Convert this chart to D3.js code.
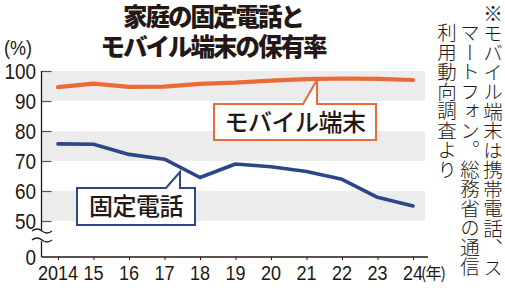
<!DOCTYPE html>
<html>
<head>
<meta charset="utf-8">
<script src="https://cdn.jsdelivr.net/npm/d3@7"></script>
<style>
  body { margin: 0; background: #fff; }
  svg { display: block; }
</style>
</head>
<body>
<svg id="chart" width="505" height="290"></svg>
<script>
// data
var years = [2014, 2015, 2016, 2017, 2018, 2019, 2020, 2021, 2022, 2023, 2024];
var yearLabels = ["2014", "15", "16", "17", "18", "19", "20", "21", "22", "23", "24"];
var mobile = [94.6, 95.8, 94.7, 94.8, 95.7, 96.1, 96.8, 97.3, 97.5, 97.4, 97.0];
var fixedPhone = [75.7, 75.6, 72.2, 70.6, 64.5, 69.0, 68.1, 66.5, 63.9, 57.9, 55.0];
var yTicks = [0, 50, 60, 70, 80, 90, 100];
var bands = [[90, 100], [70, 80], [50, 60]];
var titleLines = ["家庭の固定電話と", "モバイル端末の保有率"];
var noteLines = ["※モバイル端末は携帯電話、ス", "マートフォン。総務省の通信", "利用動向調査より"];

var svg = d3.select("#chart");
var ink = "#231815";
var orange = "#ec6a35";
var blue = "#2d4687";
var numFont = "'Liberation Sans', 'Roboto', sans-serif";
var jpFont = "'Noto Sans CJK JP', sans-serif";
var squeeze = 0.86; // condensed look for numbers

var x = d3.scaleLinear().domain([2014, 2024]).range([58, 413]);
// broken axis: 0..50 squeezed at bottom
var y = d3.scaleLinear().domain([0, 50, 100]).range([257, 221, 71]);

var axisX = 41.5;
var plotRight = 425;

// grey bands
svg.selectAll("rect.band").data(bands).enter().append("rect")
  .attr("class", "band")
  .attr("x", axisX)
  .attr("width", plotRight - axisX)
  .attr("y", function(d) { return y(d[1]); })
  .attr("height", function(d) { return y(d[0]) - y(d[1]); })
  .attr("fill", "#ececec");

// y axis
var yAxis = d3.axisRight(y).tickValues(yTicks).tickSize(10).tickFormat("");
var gy = svg.append("g").attr("transform", "translate(" + axisX + ",0)").call(yAxis);
gy.select(".domain").remove();
gy.selectAll(".tick line").attr("stroke", "#555").attr("stroke-width", 1.2)
  .filter(function(d) { return d === 0; }).remove();
svg.append("line").attr("x1", axisX).attr("x2", axisX).attr("y1", y(100)).attr("y2", y(0))
  .attr("stroke", ink).attr("stroke-width", 1.3);

svg.selectAll("text.ytick").data(yTicks).enter().append("text")
  .attr("class", "ytick")
  .attr("transform", function(d) { return "translate(36," + (y(d) + 7.5) + ") scale(" + squeeze + ",1)"; })
  .attr("text-anchor", "end")
  .attr("font-family", numFont).attr("font-size", 22).attr("fill", ink)
  .text(function(d) { return d; });

svg.append("text").attr("transform", "translate(4,55) scale(0.9,1)")
  .attr("font-family", numFont).attr("font-size", 20).attr("fill", ink)
  .text("(%)");

// break mark
var wave = function(yy) {
  return "M32," + yy + " q5,-4 10,0 t10,0";
};
svg.append("rect").attr("x", axisX - 2).attr("y", 230).attr("width", 4).attr("height", 11).attr("fill", "#fff");
[231, 240].forEach(function(yy) {
  svg.append("path").attr("d", wave(yy)).attr("fill", "none")
    .attr("stroke", ink).attr("stroke-width", 1.3);
});

// x axis
var xAxis = d3.axisBottom(x).tickValues(years).tickSize(3).tickFormat("");
var gx = svg.append("g").attr("transform", "translate(0," + y(0) + ")").call(xAxis);
gx.select(".domain").remove();
gx.selectAll(".tick line").attr("stroke", ink);
svg.append("line").attr("x1", axisX).attr("x2", 428).attr("y1", y(0)).attr("y2", y(0))
  .attr("stroke", ink).attr("stroke-width", 1.3);

svg.selectAll("text.xtick").data(years).enter().append("text")
  .attr("class", "xtick")
  .attr("transform", function(d) { return "translate(" + x(d) + ",280) scale(" + squeeze + ",1)"; })
  .attr("text-anchor", "middle")
  .attr("font-family", numFont).attr("font-size", 21).attr("fill", ink)
  .text(function(d, i) { return yearLabels[i]; });

svg.append("text").attr("x", 421).attr("y", 279)
  .attr("font-family", jpFont).attr("font-size", 16).attr("fill", ink)
  .attr("letter-spacing", -1)
  .text("(年)");

// lines
var line = d3.line()
  .x(function(d, i) { return x(years[i]); })
  .y(function(d) { return y(d); });

svg.append("path").datum(mobile).attr("d", line)
  .attr("fill", "none").attr("stroke", orange).attr("stroke-width", 4.2)
  .attr("stroke-linecap", "round").attr("stroke-linejoin", "round");
svg.append("path").datum(fixedPhone).attr("d", line)
  .attr("fill", "none").attr("stroke", blue).attr("stroke-width", 3.6)
  .attr("stroke-linecap", "round").attr("stroke-linejoin", "round");

// callouts
function callout(bx, by, bw, bh, px1, px2, tipY, color, label) {
  var p = "M" + bx + "," + by +
    " L" + px1 + "," + by +
    " L" + px2 + "," + tipY +
    " L" + px2 + "," + by +
    " L" + (bx + bw) + "," + by +
    " L" + (bx + bw) + "," + (by + bh) +
    " L" + bx + "," + (by + bh) + " Z";
  svg.append("path").attr("d", p).attr("fill", "#fff")
    .attr("stroke", color).attr("stroke-width", 2).attr("stroke-linejoin", "miter");
  svg.append("text").attr("x", bx + bw / 2).attr("y", by + bh / 2 + 8.5)
    .attr("text-anchor", "middle")
    .attr("font-family", jpFont).attr("font-size", 24).attr("font-weight", 500)
    .attr("letter-spacing", -0.5)
    .attr("fill", ink).text(label);
}
callout(214, 104, 162, 36, 303, 317, 80, orange, "モバイル端末");
callout(77, 188, 118, 37, 166, 180, 172, blue, "固定電話");

// title
svg.selectAll("text.title").data(titleLines).enter().append("text")
  .attr("class", "title")
  .attr("x", 213).attr("y", function(d, i) { return 26 + i * 30; })
  .attr("text-anchor", "middle")
  .attr("font-family", jpFont).attr("font-size", 24.5).attr("font-weight", 900)
  .attr("letter-spacing", -2)
  .attr("fill", ink)
  .text(function(d) { return d; });

// vertical note
svg.selectAll("text.note").data(noteLines).enter().append("text")
  .attr("class", "note")
  .attr("x", function(d, i) { return 493 - i * 23; })
  .attr("y", function(d, i) { return i === 0 ? 4 : 23; })
  .attr("font-family", jpFont).attr("font-size", 19.5).attr("font-weight", 300)
  .attr("fill", ink)
  .style("writing-mode", "vertical-rl")
  .text(function(d) { return d; });
</script>
</body>
</html>
